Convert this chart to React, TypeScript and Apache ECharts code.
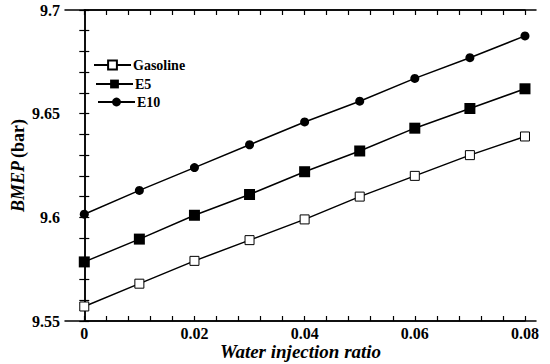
import React, { useEffect, useRef } from "react";
import * as echarts from "echarts";

const xValues = [0, 0.01, 0.02, 0.03, 0.04, 0.05, 0.06, 0.07, 0.08];
const gasoline = [9.557, 9.568, 9.579, 9.589, 9.599, 9.61, 9.62, 9.63, 9.639];
const e5 = [9.5785, 9.5895, 9.601, 9.611, 9.622, 9.632, 9.643, 9.6525, 9.662];
const e10 = [9.6015, 9.613, 9.624, 9.635, 9.646, 9.656, 9.667, 9.677, 9.6875];
const xLabelValues = [0, 0.02, 0.04, 0.06, 0.08];
const seriesNames = ["Gasoline", "E5", "E10"];

const FONT = "Liberation Serif";
const X_MIN = -0.0035;
const X_MAX = 0.082;
const X_TICK_MIN = 0;
const X_TICK_MAX = 0.08;
const X_TICK_STEP = 0.004;
const Y_MIN = 9.55;
const Y_MAX = 9.7;
const Y_TICK_STEP = 0.01;

export default function App() {
  const ref = useRef<HTMLDivElement>(null);
  useEffect(() => {
    if (!ref.current) return;
    const chart = echarts.init(ref.current, undefined, { renderer: "svg" });
    const pair = (arr: number[]) => arr.map((v, i) => [xValues[i], v]);
    const axisLine = () => ({ show: true, lineStyle: { color: "#000", width: 1.5 } });
    const tickIn = () => ({ show: true, inside: true, length: 5, lineStyle: { color: "#000", width: 1.2 } });
    const tickNeg = () => ({ show: true, inside: false, length: -5, lineStyle: { color: "#000", width: 1.2 } });
    const gl = 65, gr = 14, gt = 10, gb = 43;
    const plotW = 550 - gl - gr;
    const pxPer = plotW / (X_MAX - X_MIN);
    const tickLeft = gl + (X_TICK_MIN - X_MIN) * pxPer;
    const tickRight = 550 - (gl + (X_TICK_MAX - X_MIN) * pxPer);
    const legendText = { fontFamily: FONT, fontWeight: "bold", fontSize: 14, color: "#000", padding: [0, 0, 0, -3] };
    const legendBase = { orient: "vertical", padding: 0, itemWidth: 37, itemHeight: 11, textStyle: legendText };
    chart.setOption({
      animation: false,
      backgroundColor: "#fff",
      textStyle: { fontFamily: FONT },
      grid: [
        { left: gl, right: gr, top: gt, bottom: gb, containLabel: false, outerBoundsMode: "none" },
        { left: tickLeft, right: tickRight, top: gt, bottom: gb, containLabel: false, outerBoundsMode: "none" },
      ],
      legend: [
        { ...legendBase, left: 93, top: 58, data: [seriesNames[0]] },
        { ...legendBase, left: 95, top: 77, data: [seriesNames[1]] },
        { ...legendBase, left: 97, top: 95, data: [seriesNames[2]] },
      ],
      xAxis: [
        {
          type: "value",
          gridIndex: 0,
          min: X_MIN,
          max: X_MAX,
          name: "Water injection ratio",
          nameLocation: "middle",
          nameGap: 21,
          nameMoveOverlap: false,
          nameTextStyle: { fontFamily: FONT, fontWeight: "bold", fontStyle: "italic", fontSize: 19, color: "#000" },
          axisLine: axisLine(),
          splitLine: { show: false },
          axisTick: { show: false },
          axisLabel: {
            customValues: xLabelValues,
            margin: 4,
            fontFamily: FONT,
            fontWeight: "bold",
            fontSize: 16,
            color: "#000",
          },
        },
        {
          type: "value",
          gridIndex: 0,
          position: "top",
          min: X_MIN,
          max: X_MAX,
          axisLine: axisLine(),
          splitLine: { show: false },
          axisTick: { show: false },
          axisLabel: { show: false },
        },
        {
          type: "value",
          gridIndex: 1,
          position: "bottom",
          min: X_TICK_MIN,
          max: X_TICK_MAX,
          interval: X_TICK_STEP,
          axisLine: axisLine(),
          splitLine: { show: false },
          axisTick: tickNeg(),
          axisLabel: { show: false },
        },
        {
          type: "value",
          gridIndex: 1,
          position: "top",
          min: X_TICK_MIN,
          max: X_TICK_MAX,
          interval: X_TICK_STEP,
          axisLine: axisLine(),
          splitLine: { show: false },
          axisTick: tickNeg(),
          axisLabel: { show: false },
        },
      ],
      yAxis: [
        {
          type: "value",
          gridIndex: 0,
          min: Y_MIN,
          max: Y_MAX,
          interval: Y_TICK_STEP,
          name: "{i|BMEP} {b|(bar)}",
          nameLocation: "middle",
          nameRotate: 90,
          nameGap: 38,
          nameMoveOverlap: false,
          nameTextStyle: {
            rich: {
              i: { fontFamily: FONT, fontWeight: "bold", fontStyle: "italic", fontSize: 18, color: "#000" },
              b: { fontFamily: FONT, fontWeight: "bold", fontSize: 18, color: "#000" },
            },
          },
          axisLine: axisLine(),
          splitLine: { show: false },
          axisTick: tickIn(),
          axisLabel: {
            margin: 5,
            fontFamily: FONT,
            fontWeight: "bold",
            fontSize: 16,
            color: "#000",
            showMinLabel: true,
            showMaxLabel: true,
            hideOverlap: false,
            formatter: (v: number) => {
              const k = v * 20;
              return Math.abs(k - Math.round(k)) < 1e-6 ? String(parseFloat(v.toFixed(2))) : "";
            },
          },
        },
        {
          type: "value",
          gridIndex: 0,
          position: "right",
          min: Y_MIN,
          max: Y_MAX,
          interval: Y_TICK_STEP,
          axisLine: axisLine(),
          splitLine: { show: false },
          axisTick: tickNeg(),
          axisLabel: { show: false },
        },
        {
          type: "value",
          gridIndex: 1,
          min: Y_MIN,
          max: Y_MAX,
          show: false,
        },
      ],
      series: [
        {
          name: "Gasoline",
          type: "line",
          xAxisIndex: 0,
          yAxisIndex: 0,
          data: pair(gasoline),
          symbol: "rect",
          symbolSize: 9,
          lineStyle: { color: "#000", width: 1.5 },
          itemStyle: { color: "#fff", borderColor: "#000", borderWidth: 1 },
        },
        {
          name: "E5",
          type: "line",
          xAxisIndex: 0,
          yAxisIndex: 0,
          data: pair(e5),
          symbol: "rect",
          symbolSize: 11,
          lineStyle: { color: "#000", width: 1.5 },
          itemStyle: { color: "#000", borderColor: "#000", borderWidth: 0 },
        },
        {
          name: "E10",
          type: "line",
          xAxisIndex: 0,
          yAxisIndex: 0,
          data: pair(e10),
          symbol: "circle",
          symbolSize: 9,
          lineStyle: { color: "#000", width: 1.5 },
          itemStyle: { color: "#000", borderColor: "#000", borderWidth: 0 },
        },
      ],
    });
    return () => chart.dispose();
  }, []);
  return <div ref={ref} style={{ width: 550, height: 364, position: "absolute", left: 0, top: 0 }} />;
}
